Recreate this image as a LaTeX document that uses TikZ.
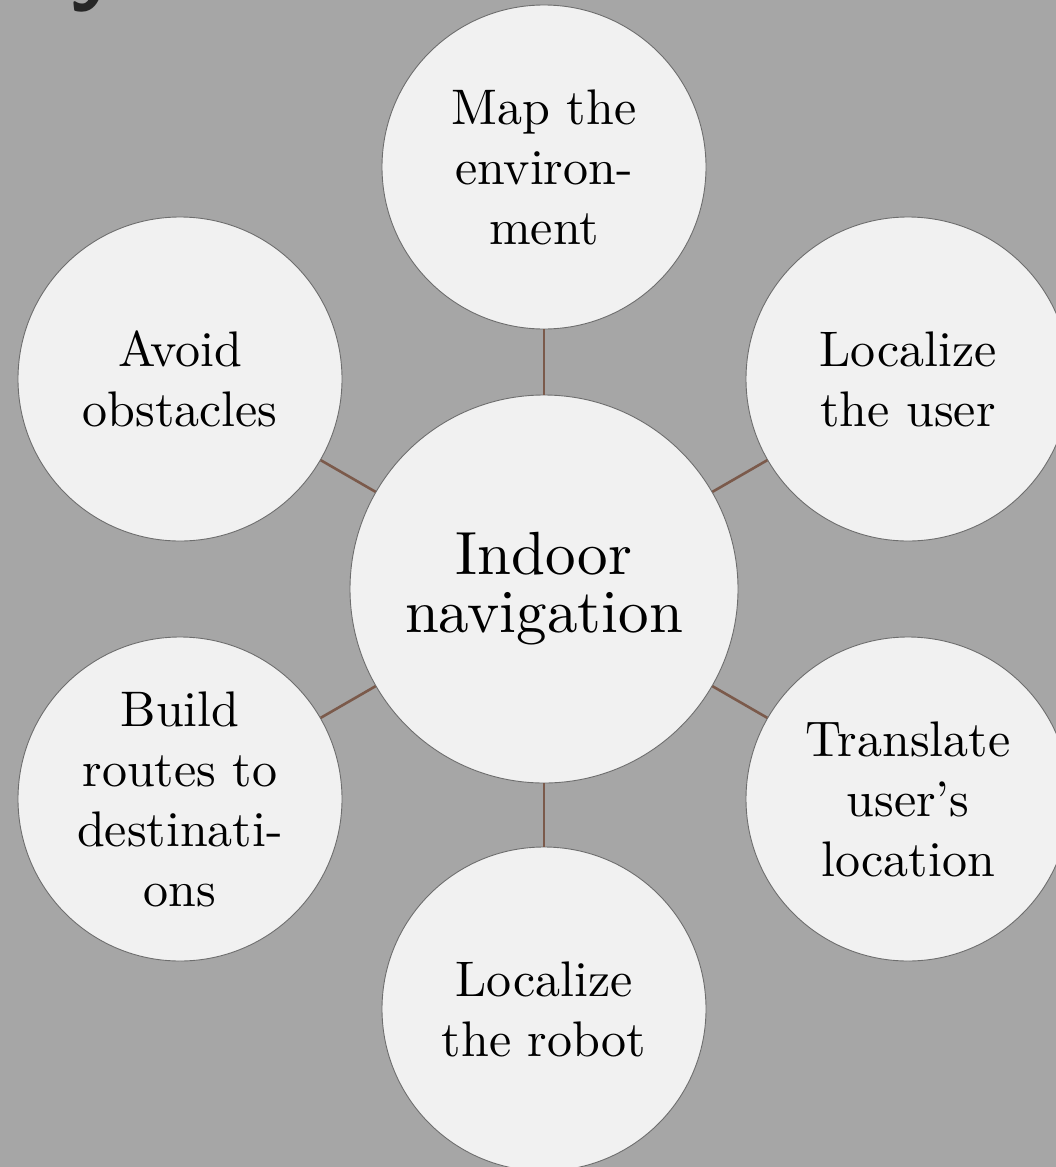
\documentclass[tikz,border=0pt]{standalone}
\usepackage{fontspec}
\newfontfamily\bubblefont{lmroman10-regular}[Extension=.otf, Ligatures=TeX]
\begin{document}
\begin{tikzpicture}[x=1pt,y=-1pt,
  bubble/.style={circle, draw=circlegray, line width=0.9pt, fill=bubblefill,
    inner sep=0pt, minimum size=324pt, align=center, text=black,
    font=\bubblefont\fontsize{50}{60}\selectfont},
  hubble/.style={bubble, minimum size=388pt, font=\bubblefont\fontsize{61}{58}\selectfont},
  link/.style={draw=linkbrown, line width=2.6pt}]
\definecolor{bgray}{HTML}{A6A6A6}
\definecolor{bubblefill}{HTML}{F1F1F1}
\definecolor{circlegray}{HTML}{6E6E6E}
\definecolor{linkbrown}{HTML}{7B5A4B}
% page
\fill[bgray] (0,0) rectangle (1056,1167);
\useasboundingbox (0,0) rectangle (1056,1167);
\begin{scope}
\clip (0,0) rectangle (1056,1167);
% heading fragment above the page edge
\node[anchor=base, inner sep=0pt, text=black!85,
  font=\fontsize{96}{96}\sffamily\bfseries] (head) at (94,-8) {y};
% hub and topics
\node[hubble] (hub) at (544,589) {Indoor\\navigation};
\node[bubble] (map) at (544,167) {Map the\\environ-\\ment};
\node[bubble] (locuser) at (908,379) {Localize\\the user};
\node[bubble] (translate) at (908,799) {Translate\\user’s\\location};
\node[bubble] (locrobot) at (544,1009) {Localize\\the robot};
\node[bubble] (routes) at (180,799) {Build\\routes to\\destinati-\\ons};
\node[bubble] (avoid) at (180,379) {Avoid\\obstacles};
\end{scope}
% spokes
\foreach \t in {map,locuser,translate,locrobot,routes,avoid}
  \draw[link] (hub) -- (\t);
\end{tikzpicture}
\end{document}
